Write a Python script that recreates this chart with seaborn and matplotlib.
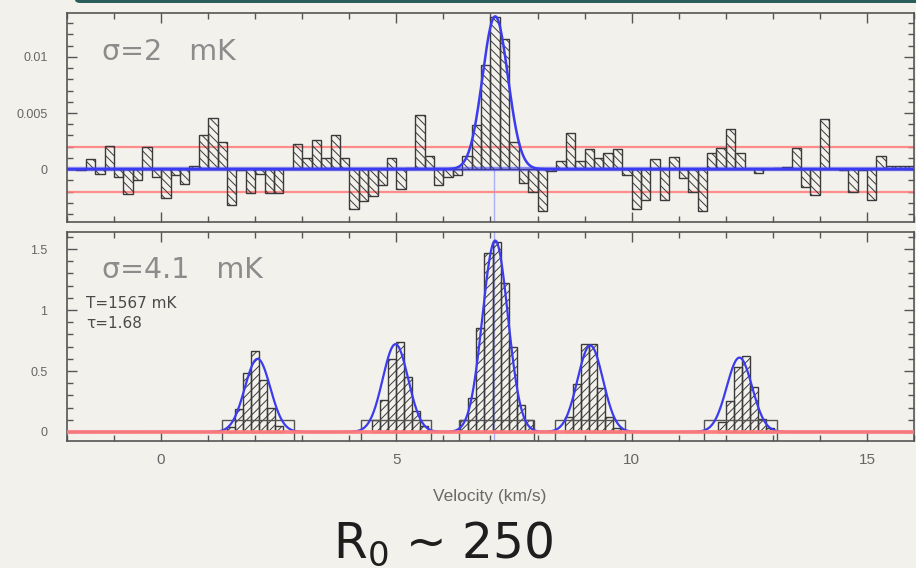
import numpy as np
import pandas as pd
import matplotlib
matplotlib.use("Agg")
import matplotlib.pyplot as plt
from matplotlib.ticker import MultipleLocator, FixedLocator
from matplotlib.patches import FancyBboxPatch, Rectangle
import seaborn as sns

# ---------------------------------------------------------------------------
# Observed spectrum (top panel): brightness per 0.2 km/s channel, from -2 km/s
obs_v_start = -2.0
obs_chan_width = 0.2
obs_tb = [
    0.0000, -0.0001, 0.0009, -0.0004, 0.0021, -0.0007, -0.0022, -0.0010, 0.0020, -0.0007,
    -0.0026, -0.0005, -0.0013, 0.0003, 0.0030, 0.0046, 0.0024, -0.0032, -0.0001, -0.0021,
    -0.0004, -0.0021, -0.0021, 0.0000, 0.0022, 0.0010, 0.0026, 0.0010, 0.0030, 0.0010,
    -0.0035, -0.0028, -0.0024, -0.0014, 0.0010, -0.0018, 0.0001, 0.0048, 0.0012, -0.0014,
    -0.0007, -0.0005, 0.0012, 0.0039, 0.0093, 0.0135, 0.0116, 0.0024, -0.0012, -0.0020,
    -0.0037, -0.0002, 0.0007, 0.0032, 0.0007, 0.0018, 0.0010, 0.0014, 0.0018, -0.0005,
    -0.0035, -0.0027, 0.0009, -0.0027, 0.0011, -0.0008, -0.0020, -0.0037, 0.0014, 0.0019,
    0.0036, 0.0014, 0.0000, -0.0003, 0.0000, 0.0001, 0.0002, 0.0019, -0.0016, -0.0023,
    0.0045, 0.0000, -0.0001, -0.0020, -0.0001, -0.0027, 0.0012, 0.0003, 0.0003, 0.0003,
]
obs_rms = 0.002           # K
obs_fit_center = 7.1      # km/s
obs_fit_amp = 0.0136      # K
obs_fit_sigma = 0.27      # km/s

# Hyperfine model spectrum (bottom panel), 0.171 km/s channels
hfs_chan_width = 0.171
hfs_centers = [2.05, 4.98, 7.10, 9.12, 12.29]
hfs_amps = [0.60, 0.72, 1.57, 0.71, 0.61]
hfs_sigma = 0.27
hfs_bin_starts = [1.400, 4.478, 6.359, 8.582, 11.831]
hfs_bins = [
    [0.04, 0.19, 0.48, 0.66, 0.43, 0.20, 0.05],
    [0.10, 0.26, 0.60, 0.74, 0.45, 0.17, 0.05],
    [0.10, 0.28, 0.85, 1.47, 1.56, 1.22, 0.70, 0.22, 0.10],
    [0.12, 0.39, 0.72, 0.72, 0.36, 0.12, 0.03],
    [0.08, 0.25, 0.53, 0.62, 0.37, 0.11, 0.03],
]
hfs_windows = [(1.29, 2.82), (4.24, 5.73), (6.33, 7.92), (8.37, 9.86), (11.53, 13.09)]
model_rms = 0.0041
v_sys = 7.07

x_range = (-2.0, 16.0)
top_ylim = (-0.0047, 0.0139)
bot_ylim = (-0.074, 1.64)

# ---------------------------------------------------------------------------
W, H = 916, 568
BG = "#f3f1ec"
INK = "#3a3a3a"
TICK_TXT = "#666666"
BLUE = "#3b3bf0"
RED = "#ff7a7a"

sns.set_theme(style="ticks")
plt.rcParams.update({
    "font.family": ["Liberation Sans", "DejaVu Sans"],
    "hatch.linewidth": 0.7,
    "hatch.color": "#4a4a4a",
    "axes.edgecolor": "#555555",
    "axes.linewidth": 1.2,
    "mathtext.fontset": "dejavusans",
})

fig = plt.figure(figsize=(W / 100, H / 100), dpi=100)
fig.patch.set_facecolor(BG)


def fig_xy(px, py):
    return px / W, 1 - py / H


def axes_box(left, top, right, bottom):
    return [left / W, 1 - bottom / H, (right - left) / W, (bottom - top) / H]


ax_top = fig.add_axes(axes_box(67, 13, 914, 222))
ax_bot = fig.add_axes(axes_box(67, 232, 914, 441), sharex=ax_top)

# slide header band
fig.patches.append(FancyBboxPatch((75 / W, 1 - 3 / H), 1.0, 0.03,
                                  boxstyle="round,pad=0,rounding_size=0.006",
                                  transform=fig.transFigure, facecolor="#2a5e5a",
                                  edgecolor="none", zorder=5))

# ---------------------------------------------------------------------------
# top panel: observed histogram
obs_df = pd.DataFrame({
    "v_lo": obs_v_start + obs_chan_width * np.arange(len(obs_tb)),
    "tb": obs_tb,
})
for r in obs_df.itertuples():
    ax_top.bar(r.v_lo, r.tb, width=obs_chan_width, align="edge", fill=False,
               hatch="\\\\\\\\", edgecolor=INK, linewidth=1.0, zorder=3)

for yv in (obs_rms, -obs_rms):
    ax_top.axhline(yv, color=RED, lw=1.6, alpha=0.85, zorder=2)

v_fine = np.linspace(x_range[0], x_range[1], 1800)
obs_fit = obs_fit_amp * np.exp(-0.5 * ((v_fine - obs_fit_center) / obs_fit_sigma) ** 2)
ax_top.axhline(0, color=BLUE, lw=3.2, alpha=0.55, zorder=4)
sns.lineplot(x=v_fine, y=obs_fit, ax=ax_top, color=BLUE, lw=1.8, zorder=5)
ax_top.axvline(v_sys, ymax=(0 - top_ylim[0]) / (top_ylim[1] - top_ylim[0]),
               color="#a9aef7", lw=1.0, zorder=1)

fig.text(*fig_xy(102, 52), "σ=2   mK", fontsize=20.5, color="#8c8c8c",
         va="center", ha="left", family=["DejaVu Sans"])

# ---------------------------------------------------------------------------
# bottom panel: hyperfine model
for start, vals in zip(hfs_bin_starts, hfs_bins):
    lo = start + hfs_chan_width * np.arange(len(vals))
    ax_bot.bar(lo, vals, width=hfs_chan_width, align="edge", fill=False,
               hatch="////", edgecolor=INK, linewidth=1.0, zorder=3)

for (w0, w1) in hfs_windows:
    ax_bot.add_patch(Rectangle((w0, bot_ylim[0]), w1 - w0, 0.1 - bot_ylim[0],
                               fill=False, edgecolor="#555555", lw=1.0, zorder=3))

hfs_model = np.zeros_like(v_fine)
for c, a in zip(hfs_centers, hfs_amps):
    hfs_model += a * np.exp(-0.5 * ((v_fine - c) / hfs_sigma) ** 2)
sns.lineplot(x=v_fine, y=hfs_model, ax=ax_bot, color=BLUE, lw=1.6, zorder=4)
for yv in (model_rms, -model_rms):
    ax_bot.axhline(yv, color=RED, lw=2.2, alpha=0.8, zorder=5)
ax_bot.axvline(v_sys, color="#a9aef7", lw=1.0, zorder=1)

fig.text(*fig_xy(102, 270), "σ=4.1   mK", fontsize=20.5, color="#8c8c8c",
         va="center", ha="left", family=["DejaVu Sans"])
fig.text(*fig_xy(86, 304), "T=1567 mK", fontsize=11, color="#4a4a4a",
         va="center", ha="left", family=["DejaVu Sans"])
fig.text(*fig_xy(86, 323), "τ=1.68", fontsize=11, color="#4a4a4a",
         va="center", ha="left", family=["DejaVu Sans"])

# ---------------------------------------------------------------------------
# axes styling
for ax in (ax_top, ax_bot):
    ax.set_facecolor("none")
    ax.set_xlim(*x_range)
    ax.xaxis.set_major_locator(FixedLocator([0, 5, 10, 15]))
    ax.xaxis.set_minor_locator(MultipleLocator(1))
    ax.tick_params(which="both", direction="in", top=True, right=True,
                   color="#555555", width=1.0)
    ax.tick_params(which="major", length=7)
    ax.tick_params(which="minor", length=4)
    ax.set_xlabel("")
    ax.set_ylabel("")
    for s in ax.spines.values():
        s.set_visible(True)

ax_top.set_ylim(*top_ylim)
ax_top.yaxis.set_major_locator(FixedLocator([0, 0.005, 0.01]))
ax_top.yaxis.set_minor_locator(MultipleLocator(0.001))
ax_top.set_yticklabels(["0", "0.005", "0.01"])
ax_top.tick_params(axis="y", labelsize=9, labelcolor=TICK_TXT, pad=14)
ax_top.tick_params(axis="x", labelbottom=False)

ax_bot.set_ylim(*bot_ylim)
ax_bot.yaxis.set_major_locator(FixedLocator([0, 0.5, 1, 1.5]))
ax_bot.yaxis.set_minor_locator(MultipleLocator(0.1))
ax_bot.set_yticklabels(["0", "0.5", "1", "1.5"])
ax_bot.tick_params(axis="y", labelsize=9, labelcolor=TICK_TXT, pad=14)
ax_bot.set_xticklabels(["0", "5", "10", "15"])
ax_bot.tick_params(axis="x", labelsize=11, labelcolor=TICK_TXT, pad=9)

fig.text(*fig_xy(490, 496), "Velocity (km/s)", fontsize=12.5, color="#6a6a6a",
         ha="center", va="center")

fig.text(*fig_xy(333, 558), r"R$_0$ ~ 250", fontsize=35, color="#1e1e1e",
         ha="left", va="baseline", family=["DejaVu Sans"])

fig.savefig("out.png", dpi=100, facecolor=BG)
